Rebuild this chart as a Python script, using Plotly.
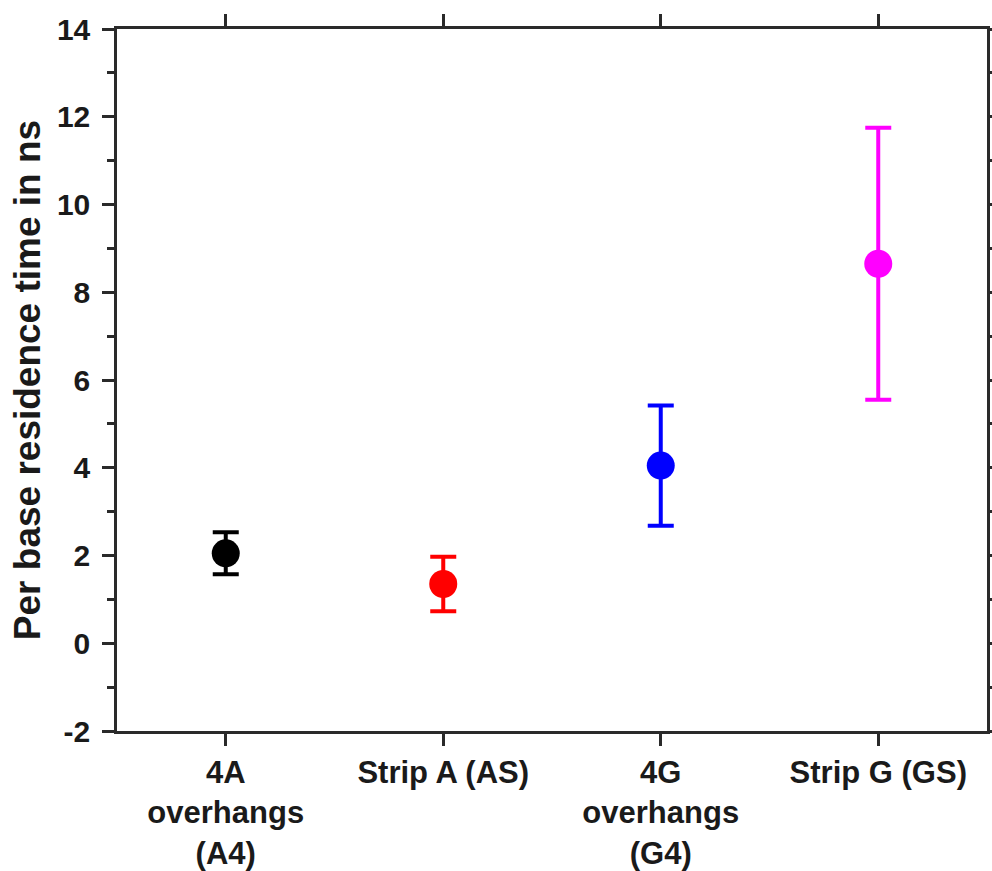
import plotly.graph_objects as go

categories = ["4A<br>overhangs<br>(A4)", "Strip A (AS)", "4G<br>overhangs<br>(G4)", "Strip G (GS)"]
values = [2.05, 1.35, 4.05, 8.65]
errors = [0.48, 0.62, 1.37, 3.1]
colors = ["#000000", "#ff0000", "#0000ff", "#ff00ff"]
y_ticks = [-2, 0, 2, 4, 6, 8, 10, 12, 14]

FONT = "Liberation Sans, Arial, sans-serif"

fig = go.Figure()
for i, (c, v, e, col) in enumerate(zip(categories, values, errors, colors)):
    fig.add_trace(go.Scatter(
        x=[i], y=[v], mode="markers",
        marker=dict(color=col, size=28, line=dict(width=0)),
        error_y=dict(type="data", array=[e], color=col, thickness=4, width=13, visible=True),
        showlegend=False,
    ))

axis_common = dict(showline=True, linecolor="#2a2a2a", linewidth=2.5, mirror="allticks",
                   ticks="outside", ticklen=12, tickwidth=2.5, tickcolor="#2a2a2a",
                   showgrid=False, zeroline=False, automargin=False)

fig.update_xaxes(
    range=[-0.5, 3.5], tickmode="array", tickvals=list(range(len(categories))),
    ticktext=["<b>" + c.replace("<br>", "</b><br><b>") + "</b>" for c in categories],
    tickfont=dict(family=FONT, size=31, color="#1a1a1a"),
    ticklabelstandoff=0,
    **axis_common,
)
fig.update_yaxes(
    range=[-2, 14], tickmode="array", tickvals=y_ticks,
    ticktext=["<b>" + str(t) + "</b>" for t in y_ticks],
    tickfont=dict(family=FONT, size=30, color="#1a1a1a"),
    ticklabelstandoff=6,
    minor=dict(dtick=1, ticks="outside", ticklen=7, tickwidth=2.5, tickcolor="#2a2a2a", showgrid=False),
    title=dict(text="<b>Per base residence time in ns</b>", font=dict(family=FONT, size=37, color="#1a1a1a"), standoff=5),
    **axis_common,
)
fig.update_layout(
    width=992, height=871,
    margin=dict(l=117, r=5, t=29, b=140),
    plot_bgcolor="white", paper_bgcolor="white",
    font=dict(family=FONT, color="#1a1a1a"),
)
fig.write_html(
    "out.html",
    config={"displayModeBar": False},
    post_script="document.body.style.margin='0px';document.documentElement.style.overflow='hidden';document.body.style.overflow='hidden';",
)
